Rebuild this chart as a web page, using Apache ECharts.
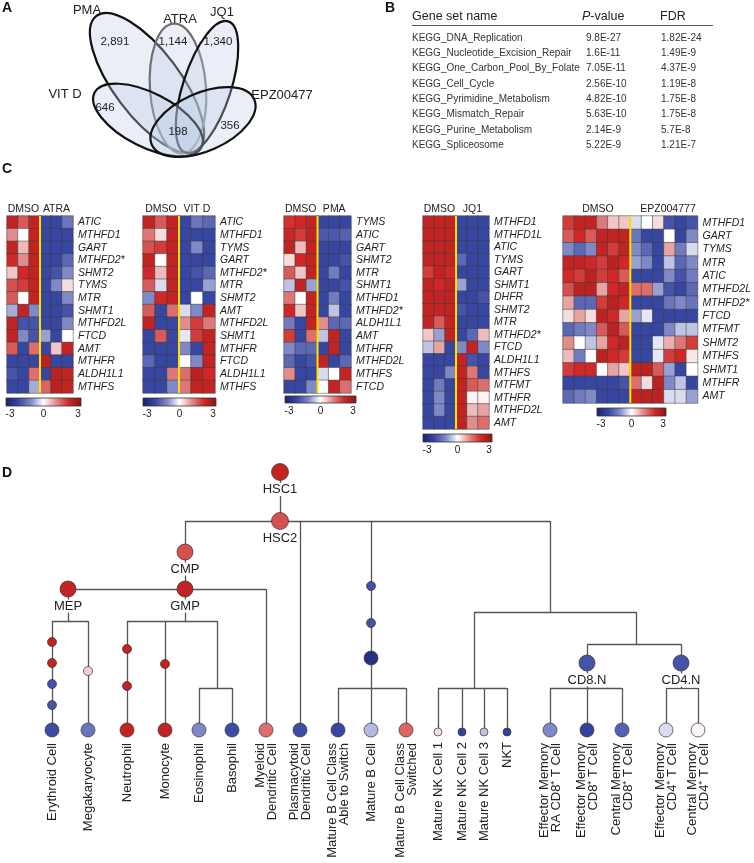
<!DOCTYPE html>
<html><head><meta charset="utf-8">
<script src="https://cdn.jsdelivr.net/npm/echarts@6/dist/echarts.min.js"></script>
<style>html,body{margin:0;padding:0;background:#fff}#c{width:754px;height:863px}</style>
</head><body><div id="c"></div>
<script>
// ================= DATA =================
// Panel A (Venn)
const vennSets = ['PMA', 'ATRA', 'JQ1', 'VIT D', 'EPZ00477'];
const vennCounts = [2891, 1144, 1340, 646, 356, 198];

// Panel B (table)
const gsNames = ['KEGG_DNA_Replication','KEGG_Nucleotide_Excision_Repair','KEGG_One_Carbon_Pool_By_Folate','KEGG_Cell_Cycle','KEGG_Pyrimidine_Metabolism','KEGG_Mismatch_Repair','KEGG_Purine_Metabolism','KEGG_Spliceosome'];
const gsP = ['9.8E-27','1.6E-11','7.05E-11','2.56E-10','4.82E-10','5.63E-10','2.14E-9','5.22E-9'];
const gsFDR = ['1.82E-24','1.49E-9','4.37E-9','1.19E-8','1.75E-8','1.75E-8','5.7E-8','1.21E-7'];

// Panel C (heatmaps)
const atraGenes = ['ATIC','MTHFD1','GART','MTHFD2*','SHMT2','TYMS','MTR','SHMT1','MTHFD2L','FTCD','AMT','MTHFR','ALDH1L1','MTHFS'];
const atraValues = [
 [2.2,1.5,2.2,-2,-2,-1.3],[1.0,0,2.2,-2,-2,-2],[2.2,0.6,2.2,-2,-2,-2],[2.0,1.0,2.2,-2,-2,-1.5],
 [0.5,2.0,2.2,-2,-1.8,-1.0],[1.6,1.8,2.2,-2,-1.0,0.3],[1.5,0,2.2,-2,-2,-1.0],[-0.7,2.2,-1.0,-2,-2,-1.8],
 [2.2,-1.8,-1.8,-2,-2,-1.0],[2.2,-1.0,-1.8,-0.8,-2,0],[1.5,-2,1.3,-2,0.5,2.2],[-2,-2,-2,2.3,-2,-2],
 [-1.8,-2,1.3,-2,2.3,2.2],[-2,-2,-0.7,1.4,2.3,2.2]];
const vitdGenes = ['ATIC','MTHFD1','TYMS','GART','MTHFD2*','MTR','SHMT2','AMT','MTHFD2L','SHMT1','MTHFR','FTCD','ALDH1L1','MTHFS'];
const vitdValues = [
 [2.2,1.5,2.2,-2,-1.3,-1.5],[1.2,0.3,2.2,-2,-2,-2],[1.6,1.8,2.2,-2,-1.0,-2],[2.2,0,2.2,-2,-2,-2],
 [2.0,0.6,2.2,-2,-1.8,-1.5],[1.5,-0.3,2.2,-2,-2,-0.8],[-1.0,2.0,2.2,-2,0,-2],[1.5,-2,1.3,-0.3,-1.0,2.2],
 [2.2,-2,-2,1.0,1.8,1.2],[-2,1.5,-2,-0.2,1.8,2.2],[-2,-2,-2,-1.0,-2,2.2],[-1.5,-2,-2,0,-1.0,2.2],
 [-2,-2,1.2,1.3,2.3,2.0],[-2,-2,-1.0,1.2,2.2,2.2]];
const pmaGenes = ['TYMS','ATIC','GART','SHMT2','MTR','SHMT1','MTHFD1','MTHFD2*','ALDH1L1','AMT','MTHFR','MTHFD2L','MTHFS','FTCD'];
const pmaValues = [
 [1.9,2.0,2.2,-2,-2,-2],[2.1,1.8,2.2,-1.7,-1.7,-1.6],[2.2,0.6,2.2,-2,-2,-2],[0.3,2.0,2.2,-2,-2,-1.8],
 [1.5,0.5,2.2,-2,-1.2,-2],[-0.5,2.2,-0.8,-2,-2,-1.8],[1.2,0,2.2,-2,-1.2,-2],[2.0,0.5,2.2,-2,-0.5,-2],
 [-1.2,-2,2.2,1.0,-1.5,-1.5],[1.8,-2,1.3,-0.5,2.2,-2],[-1.0,-1.5,-1.5,-2,2.2,-2],[-1.5,-2,-1.8,2.2,-2,-1.5],
 [1.0,-2,-2,-0.3,0,2.2],[-2,-2,-1.0,0,2.2,1.3]];
const jq1Genes = ['MTHFD1','MTHFD1L','ATIC','TYMS','GART','SHMT1','DHFR','SHMT2','MTR','MTHFD2*','FTCD','ALDH1L1','MTHFS','MTFMT','MTHFR','MTHFD2L','AMT'];
const jq1Values = [
 [2.2,2.2,2.2,-2,-2,-2],[2.2,2.2,2.2,-2,-2,-2],[2.2,2.2,2.2,-2,-2,-2],[2.2,2.2,2.2,-1.5,-2,-2],
 [1.8,2.2,2.0,-2,-2,-2],[2.2,2.0,2.2,-0.8,-2,-2],[2.2,2.2,2.2,-2,-2,-1.8],[2.2,2.2,2.2,-1.8,-2,-2],
 [2.2,1.5,2.2,-2,-2,-2],[0.5,-0.8,2.2,-2,-1.5,0.6],[-0.5,0.8,-2,-1.0,2.2,-1.0],[-2,-2,-2,2.2,-1.8,-2],
 [-2,-2,-1.0,2.2,1.2,-2],[-2,-1.2,-2,2.2,1.5,1.3],[-2,-1.0,-2,2.2,0.1,0.1],[-2,-1.0,-2,2.2,0.6,0.8],
 [-2,-2,-2,2.2,1.0,1.3]];
const epzGenes = ['MTHFD1','GART','TYMS','MTR','ATIC','MTHFD2L','MTHFD2*','FTCD','MTFMT','SHMT2','MTHFS','SHMT1','MTHFR','AMT'];
const epzValues = [
 [1.8,2.2,2.2,1.2,0.5,0.5,-0.3,0,0.3,-1.8,-2,-1.8],
 [1.5,2.0,1.5,2.2,2.2,2.2,-1.3,-2,-2,0,-2,-1.0],
 [-1.0,-1.5,-1.0,2.2,1.8,2.2,-1.0,-1.5,-2,0.8,-1.2,-0.3],
 [2.2,2.2,2.0,1.8,2.3,2.0,-0.8,-1.0,-2,-0.5,-1.5,-1.0],
 [2.0,1.8,2.3,1.8,2.0,1.5,-2,-2,-2,-1.0,-1.8,-1.2],
 [1.6,2.3,2.3,0.8,2.0,2.2,1.3,1.3,-0.8,-1.8,-2,-1.5],
 [0.8,-1.5,-1.5,1.8,2.3,2.0,-2,-2,-2,-1.3,-1.0,-1.3],
 [0.3,0.8,0.3,2.3,2.0,0.8,-0.8,-0.2,-2,-2,-2,-2],
 [-1.5,-1.2,-1.0,1.5,2.3,1.5,-2,-2,-2,-1.0,-0.5,-0.5],
 [1.0,0,-0.5,0.8,2.0,2.3,-2,-2,-0.2,0.7,1.2,1.8],
 [0.6,-1.2,0,2.3,2.0,1.8,-2,-2,-0.2,1.8,2.0,0.2],
 [1.8,2.0,2.0,0,0.8,0.5,2.3,2.3,1.5,-0.8,-2,0],
 [-2,-2,-2,-2,-2,-1.8,1.3,0.3,2.3,-1.0,-0.5,-2],
 [-1.5,-1.2,-1.0,-2,-2,-2,2.2,2.3,2.3,-0.3,-0.3,-0.8]];
const hmTreatments = ['ATRA','VIT D','PMA','JQ1','EPZ004777'];
const scaleTicks = ['-3','0','3'];

// Panel D (tree) – node labels, parent index, expression value
const treeLabels = ['HSC1','HSC2','CMP','GMP','MEP','','','','','Erythroid Cell','','Megakaryocyte','','','Neutrophil','','Monocyte','',
 'Eosinophil','Basophil','Myeloid\nDendritic Cell','Plasmacytoid\nDendritic Cell','','','','Mature B Cell Class\nAble to Switch','Mature B Cell',
 'Mature B Cell Class\nSwitched','','','Mature NK Cell 1','Mature NK Cell 2','Mature NK Cell 3','NKT','','CD8.N','CD4.N',
 'Effector Memory\nRA CD8\u207A T Cell','Effector Memory\nCD8\u207A T Cell','Central Memory\nCD8\u207A T Cell','Effector Memory\nCD4\u207A T Cell','Central Memory\nCD4\u207A T Cell'];
const treeParents = [-1,0,1,2,2,4,5,6,7,8,4,10,3,12,13,3,15,3,17,17,2,1,1,22,23,24,24,24,1,28,29,29,29,29,28,34,34,35,35,35,36,36];
const treeValues = [2.2,1.6,1.6,2.2,2.2,2.2,2.2,-1.8,-1.8,-1.9,0.4,-1.3,2.2,2.2,2.2,2.2,2.2,null,-1.0,-1.9,1.3,-1.9,-1.8,-1.8,-2.6,-2.0,-0.6,
 1.4,null,null,0.3,-2.1,-0.5,-2.1,null,-1.8,-1.8,-1.0,-2.1,-1.6,-0.3,0.1];

// ================= LAYOUT (positions / sizes / styles) =================
const W = 754, H = 863;
const FONT = '"Liberation Sans", Arial, Helvetica, sans-serif';
const scaleColors = ['#1b216b','#3646a1','#8089c8','#ffffff','#e28c8c','#d02828','#8a1515'];
const vennGeom = [ // cx, cy, rx, ry, clockwise angle
 [147,83,84,33,53],[178,88.5,65,28,86],[207,87,69,24,108],[148,120,60,27,27],[203,122,56,29,-24]];
const vennStroke = ['#111','#707070','#111','#111','#111'];
const vennLabelPos = [[87,10],[180,19],[222,12],[65,94],[282,95]];
const vennCountPos = [[115,42],[173,42],[218,42],[105,108],[230,126],[178,132]];
const hmLayout = [
 {left:7, top:216, width:66, height:177, bar:[6,398,75,8]},
 {left:143, top:216, width:72, height:177, bar:[143,398,73,8]},
 {left:284, top:216, width:67, height:177, bar:[285,396,71,7]},
 {left:423, top:216, width:66, height:213, bar:[423,434,69,8]},
 {left:563, top:216, width:140, height:187, bar:[597,408,69,8]}];
const treeX = [280,280,185,185,68,52,52,52,52,52,88,88,127,127,127,165,165,217,199,232,266,300,371,371,371,338,371,406,550,474,438,462,484,507,636,587,681,550,587,622,666,698];
const treeY = [472,521,552,589,589,642,663,684,705,730,671,730,649,686,730,664,730,688,730,730,730,730,586,623,658,730,730,730,612,688,732,732,732,732,644,663,663,730,730,730,730,730];
const treeR = [8.5,8.5,8,8,8,4.5,4.5,4.5,4.5,7,4.5,7,4.5,4.5,7,4.5,7,0,7,7,7,7,4.5,4.5,7,7,7,7,0,0,4,4,4,4,0,8,8,7,7,7,7,7];
const treeBarY = {0:472,1:521,2:589,3:621,4:621,17:688,24:688,28:612,29:688,34:644,35:688,36:688};

// ================= BUILD =================
const heatmaps = [
 {genes:atraGenes, values:atraValues, nD:3},
 {genes:vitdGenes, values:vitdValues, nD:3},
 {genes:pmaGenes, values:pmaValues, nD:3},
 {genes:jq1Genes, values:jq1Values, nD:3},
 {genes:epzGenes, values:epzValues, nD:6}];

const grids = [{left:0, top:0, width:W, height:H}];
const xAxes = [{gridIndex:0, type:'value', min:0, max:W, show:false}];
const yAxes = [{gridIndex:0, type:'value', min:0, max:H, inverse:true, show:false}];
const series = [];
const graphics = [];
const heatIdx = [];

function txt(x, y, text, o) {
  o = o || {};
  return {type:'text', x:x, y:y, silent:true, z:o.z || 10, rotation:o.rotation || 0,
    style:{text:text, fill:o.color || '#222', font:(o.italic?'italic ':'') + (o.weight||'normal') + ' ' + (o.size||11) + 'px ' + FONT,
      align:o.align||'left', verticalAlign:o.va||'middle', textAlign:o.align||'left', textVerticalAlign:o.va||'middle', rich:o.rich}};
}

// Panel letters
[['A',2,8],['B',385,8],['C',2,169],['D',2,473]].forEach(l => graphics.push(txt(l[1], l[2], l[0], {size:14, weight:'bold', color:'#111'})));

// Panel A – ellipses through custom series on the pixel grid
series.push({type:'custom', xAxisIndex:0, yAxisIndex:0, silent:true, z:2,
  data: vennGeom.map((g,i) => g.concat([i])),
  renderItem: (p, api) => {
    const c = api.coord([api.value(0), api.value(1)]);
    const s = api.size([api.value(2), api.value(3)]);
    const i = api.value(5);
    return {type:'ellipse', x:c[0], y:c[1], rotation:-api.value(4)*Math.PI/180,
      shape:{cx:0, cy:0, rx:Math.abs(s[0]), ry:Math.abs(s[1])},
      style:{fill:'rgba(190,205,230,0.33)', stroke:vennStroke[i], lineWidth:2.2}};
  }});
vennSets.forEach((s,i) => graphics.push(txt(vennLabelPos[i][0], vennLabelPos[i][1], s, {size:13, align:'center', color:'#222'})));
vennCounts.forEach((c,i) => graphics.push(txt(vennCountPos[i][0], vennCountPos[i][1], c.toLocaleString('en-US'), {size:11.5, align:'center', color:'#222'})));

// Panel B – table
graphics.push(txt(412, 17, 'Gene set name', {size:12.5}));
graphics.push(txt(582, 17, '{i|P}-value', {size:12.5, rich:{i:{fontStyle:'italic', fontSize:12.5, fontFamily:FONT, fill:'#222'}}}));
graphics.push(txt(660, 17, 'FDR', {size:12.5}));
graphics.push({type:'line', silent:true, shape:{x1:412, y1:25.5, x2:713, y2:25.5}, style:{stroke:'#555', lineWidth:1}});
gsNames.forEach((n,i) => {
  const y = 38 + i*15.3;
  graphics.push(txt(412, y, n, {size:10, color:'#333'}));
  graphics.push(txt(586, y, gsP[i], {size:10, color:'#333'}));
  graphics.push(txt(661, y, gsFDR[i], {size:10, color:'#333'}));
});

// Panel C – heatmaps
heatmaps.forEach((hm, k) => {
  const L = hmLayout[k], gi = k + 1, nC = hm.values[0].length, nR = hm.genes.length;
  grids.push({left:L.left, top:L.top, width:L.width, height:L.height});
  xAxes.push({gridIndex:gi, type:'category', data:hm.values[0].map((_,j)=>String(j)), show:false});
  yAxes.push({gridIndex:gi, type:'category', data:hm.genes, inverse:true, position:'right',
    axisLine:{show:false}, axisTick:{show:false}, splitLine:{show:false},
    axisLabel:{interval:0, fontStyle:'italic', fontSize:10.5, color:'#222', margin:5, fontFamily:FONT}});
  const data = [];
  hm.values.forEach((row, r) => row.forEach((v, c) => data.push([c, r, v])));
  heatIdx.push(series.length);
  series.push({type:'heatmap', xAxisIndex:gi, yAxisIndex:gi, data:data, silent:true,
    itemStyle:{borderColor:'#3a3a3a', borderWidth:0.5}, emphasis:{disabled:true}});
  series.push({type:'custom', xAxisIndex:gi, yAxisIndex:gi, silent:true, z:5, data:[[0,0]],
    renderItem: (p, api) => {
      const bw = api.size([1,1]);
      const a = api.coord([hm.nD-1, 0]), b = api.coord([hm.nD-1, nR-1]);
      const x = a[0] + bw[0]/2;
      return {type:'line', shape:{x1:x, y1:a[1]-bw[1]/2, x2:x, y2:b[1]+bw[1]/2}, style:{stroke:'#ffe100', lineWidth:2}};
    }});
  // headers
  const cw = L.width / nC;
  graphics.push(txt(L.left + cw*hm.nD/2, 209, 'DMSO', {size:10.5, align:'center'}));
  graphics.push(txt(L.left + cw*hm.nD + cw*(nC-hm.nD)/2, 209, hmTreatments[k], {size:10.5, align:'center'}));
  // colour bar
  const B = L.bar;
  graphics.push({type:'rect', silent:true, shape:{x:B[0], y:B[1], width:B[2], height:B[3]},
    style:{fill:new echarts.graphic.LinearGradient(0,0,1,0, scaleColors.map((c,j)=>({offset:j/(scaleColors.length-1), color:c}))), stroke:'#333', lineWidth:0.8}});
  const ty = B[1] + B[3] + 8;
  graphics.push(txt(B[0]+4, ty, scaleTicks[0], {size:10, align:'center'}));
  graphics.push(txt(B[0]+B[2]/2, ty, scaleTicks[1], {size:10, align:'center'}));
  graphics.push(txt(B[0]+B[2]-3, ty, scaleTicks[2], {size:10, align:'center'}));
});

// Panel D – tree
const kids = {};
treeParents.forEach((p,i) => { if (p >= 0) (kids[p] = kids[p] || []).push(i); });
const lineData = [];
Object.keys(kids).forEach(k => {
  const p = +k, ch = kids[p];
  const by = (treeBarY[p] !== undefined) ? treeBarY[p] : treeY[p];
  const xs = ch.map(c => treeX[c]).concat([treeX[p]]);
  const x0 = Math.min.apply(null, xs), x1 = Math.max.apply(null, xs);
  if (x1 > x0) lineData.push({coords:[[x0,by],[x1,by]]});
  if (by !== treeY[p]) lineData.push({coords:[[treeX[p],treeY[p]],[treeX[p],by]]});
  ch.forEach(c => { if (treeY[c] !== by) lineData.push({coords:[[treeX[c],by],[treeX[c],treeY[c]]]}); });
});
series.push({type:'lines', coordinateSystem:'cartesian2d', xAxisIndex:0, yAxisIndex:0, polyline:false, silent:true, z:3,
  data:lineData, lineStyle:{color:'#555', width:1.3, opacity:1}});
const treeIdx = series.length;
const nodeData = [];
treeValues.forEach((v,i) => { if (v !== null) nodeData.push([treeX[i], treeY[i], v, treeR[i]]); });
series.push({type:'scatter', xAxisIndex:0, yAxisIndex:0, silent:true, z:4, data:nodeData,
  symbolSize:(val) => val[3]*2, itemStyle:{borderColor:'#333', borderWidth:0.7, opacity:1}});
// labels
const innerLab = [], leafLab = [];
treeLabels.forEach((t,i) => {
  if (!t) return;
  if (kids[i]) innerLab.push([treeX[i], treeY[i] + treeR[i] + 9, i]);
  else leafLab.push([treeX[i], treeY[i] + treeR[i] + 6, i]);
});
series.push({type:'custom', xAxisIndex:0, yAxisIndex:0, silent:true, z:6, data:innerLab,
  renderItem:(p, api) => {
    const c = api.coord([api.value(0), api.value(1)]);
    return {type:'text', x:c[0], y:c[1], style:{text:treeLabels[api.value(2)], font:'13px ' + FONT, fill:'#222',
      align:'center', verticalAlign:'middle', backgroundColor:'#fff', padding:[0,1]}};
  }});
series.push({type:'custom', xAxisIndex:0, yAxisIndex:0, silent:true, z:6, data:leafLab,
  renderItem:(p, api) => {
    const c = api.coord([api.value(0), api.value(1)]);
    return {type:'text', x:c[0], y:c[1], rotation:Math.PI/2, style:{text:treeLabels[api.value(2)], font:'13px ' + FONT, fill:'#222',
      align:'right', verticalAlign:'middle', lineHeight:12}};
  }});

const chart = echarts.init(document.getElementById('c'), null, {renderer:'canvas', width:W, height:H});
chart.setOption({
  animation:false,
  backgroundColor:'#fff',
  textStyle:{fontFamily:FONT},
  grid:grids, xAxis:xAxes, yAxis:yAxes,
  visualMap:[{type:'continuous', show:false, min:-3, max:3, dimension:2, seriesIndex:heatIdx.concat([treeIdx]),
    inRange:{color:scaleColors}}],
  graphic:{elements:graphics},
  series:series
});
</script></body></html>
